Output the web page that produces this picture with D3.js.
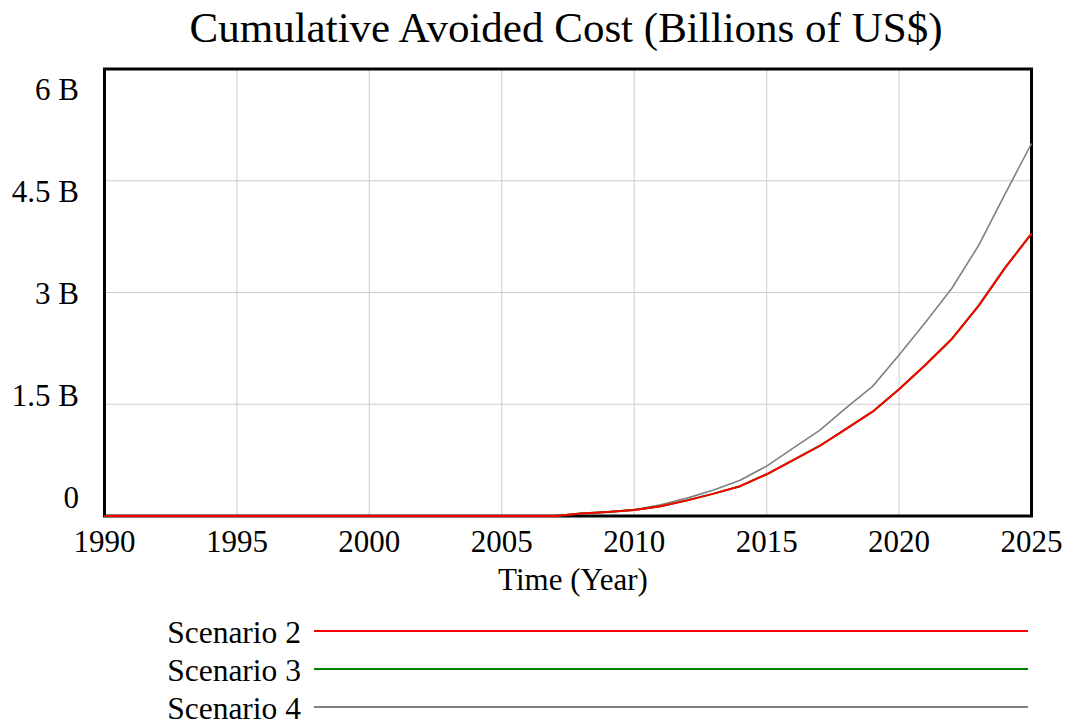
<!DOCTYPE html>
<html>
<head>
<meta charset="utf-8">
<script src="https://cdn.jsdelivr.net/npm/d3@7"></script>
<style>
  html, body { margin: 0; padding: 0; background: #fff; }
  svg { display: block; }
  svg text { font-family: 'Liberation Serif', 'DejaVu Serif', Tinos, Times, serif; }
</style>
</head>
<body>
<svg id="chart" width="1069" height="725"></svg>
<script>
// Data (billions of US$)
const years = d3.range(1990, 2026);
const scenario2 = [
  0, 0, 0, 0, 0, 0, 0, 0, 0, 0,
  0, 0, 0, 0, 0, 0, 0, 0, 0.035, 0.055,
  0.08, 0.13, 0.21, 0.30, 0.40, 0.56, 0.75, 0.94, 1.17, 1.40,
  1.70, 2.03, 2.38, 2.82, 3.33, 3.79
];
const scenario3 = scenario2.slice(); // sits exactly under scenario 2
const scenario4 = [
  0, 0, 0, 0, 0, 0, 0, 0, 0, 0,
  0, 0, 0, 0, 0, 0, 0, 0, 0.035, 0.055,
  0.085, 0.15, 0.24, 0.35, 0.48, 0.67, 0.91, 1.15, 1.45, 1.74,
  2.16, 2.60, 3.06, 3.63, 4.32, 5.00
];
const xTicks = [1990, 1995, 2000, 2005, 2010, 2015, 2020, 2025];
const yTicks = [0, 1.5, 3, 4.5, 6];
const yTickLabels = ['0', '1.5 B', '3 B', '4.5 B', '6 B'];

const series = [
  { name: 'Scenario 4', values: scenario4, color: '#808080', width: 1.6 },
  { name: 'Scenario 3', values: scenario3, color: '#008000', width: 2 },
  { name: 'Scenario 2', values: scenario2, color: '#ff0000', width: 2 }
];
const legendOrder = ['Scenario 2', 'Scenario 3', 'Scenario 4'];

const FONT = "'Liberation Serif', 'DejaVu Serif', Tinos, Times, serif";

const svg = d3.select('#chart');
const plot = { left: 104.5, right: 1031.5, top: 69, bottom: 516 };

const x = d3.scaleLinear().domain([1990, 2025]).range([plot.left, plot.right]);
const y = d3.scaleLinear().domain([0, 6]).range([plot.bottom, plot.top]);
// Vensim spreads the y labels evenly, a bit inside the frame
const yLabel = d3.scaleLinear().domain([0, 6]).range([507.5, 99.5]);

// Title
svg.append('text')
  .attr('x', 566).attr('y', 42)
  .attr('text-anchor', 'middle')
  .attr('font-family', FONT)
  .attr('font-size', 43)
  .text('Cumulative Avoided Cost (Billions of US$)');

// Grid
const grid = svg.append('g').attr('stroke', '#cccccc').attr('stroke-width', 1);
grid.selectAll('.vx').data(xTicks.slice(1, -1)).enter().append('line')
  .attr('x1', d => x(d)).attr('x2', d => x(d))
  .attr('y1', plot.top).attr('y2', plot.bottom);
grid.selectAll('.hy').data(yTicks.slice(1, -1)).enter().append('line')
  .attr('x1', plot.left).attr('x2', plot.right)
  .attr('y1', d => y(d)).attr('y2', d => y(d));

// Frame
svg.append('rect')
  .attr('x', plot.left).attr('y', plot.top)
  .attr('width', plot.right - plot.left).attr('height', plot.bottom - plot.top)
  .attr('fill', 'none').attr('stroke', '#000').attr('stroke-width', 3);

// Series lines
const line = d3.line()
  .x((d, i) => x(years[i]))
  .y(d => y(d));

svg.append('g').selectAll('path').data(series).enter().append('path')
  .attr('d', d => line(d.values))
  .attr('fill', 'none')
  .attr('stroke', d => d.color)
  .attr('stroke-width', d => d.width)
  .attr('stroke-linejoin', 'round');

// Axis labels
svg.append('g').selectAll('text').data(xTicks).enter().append('text')
  .attr('x', d => x(d)).attr('y', 552)
  .attr('text-anchor', 'middle')
  .attr('font-family', FONT)
  .attr('font-size', 31)
  .text(d => d);

svg.append('g').selectAll('text').data(yTicks).enter().append('text')
  .attr('x', 79).attr('y', d => yLabel(d))
  .attr('text-anchor', 'end')
  .attr('font-family', FONT)
  .attr('font-size', 31)
  .text((d, i) => yTickLabels[i]);

svg.append('text')
  .attr('x', 573).attr('y', 590)
  .attr('text-anchor', 'middle')
  .attr('font-family', FONT)
  .attr('font-size', 31)
  .text('Time (Year)');

// Legend
const legend = svg.append('g');
legendOrder.forEach((name, i) => {
  const s = series.find(d => d.name === name);
  const ly = 631 + i * 38;
  legend.append('text')
    .attr('x', 301).attr('y', ly + 12)
    .attr('text-anchor', 'end')
    .attr('font-family', FONT)
    .attr('font-size', 31.5)
    .text(name);
  legend.append('line')
    .attr('x1', 314).attr('x2', 1028)
    .attr('y1', ly).attr('y2', ly)
    .attr('stroke', s.color).attr('stroke-width', 2);
});
</script>
</body>
</html>
